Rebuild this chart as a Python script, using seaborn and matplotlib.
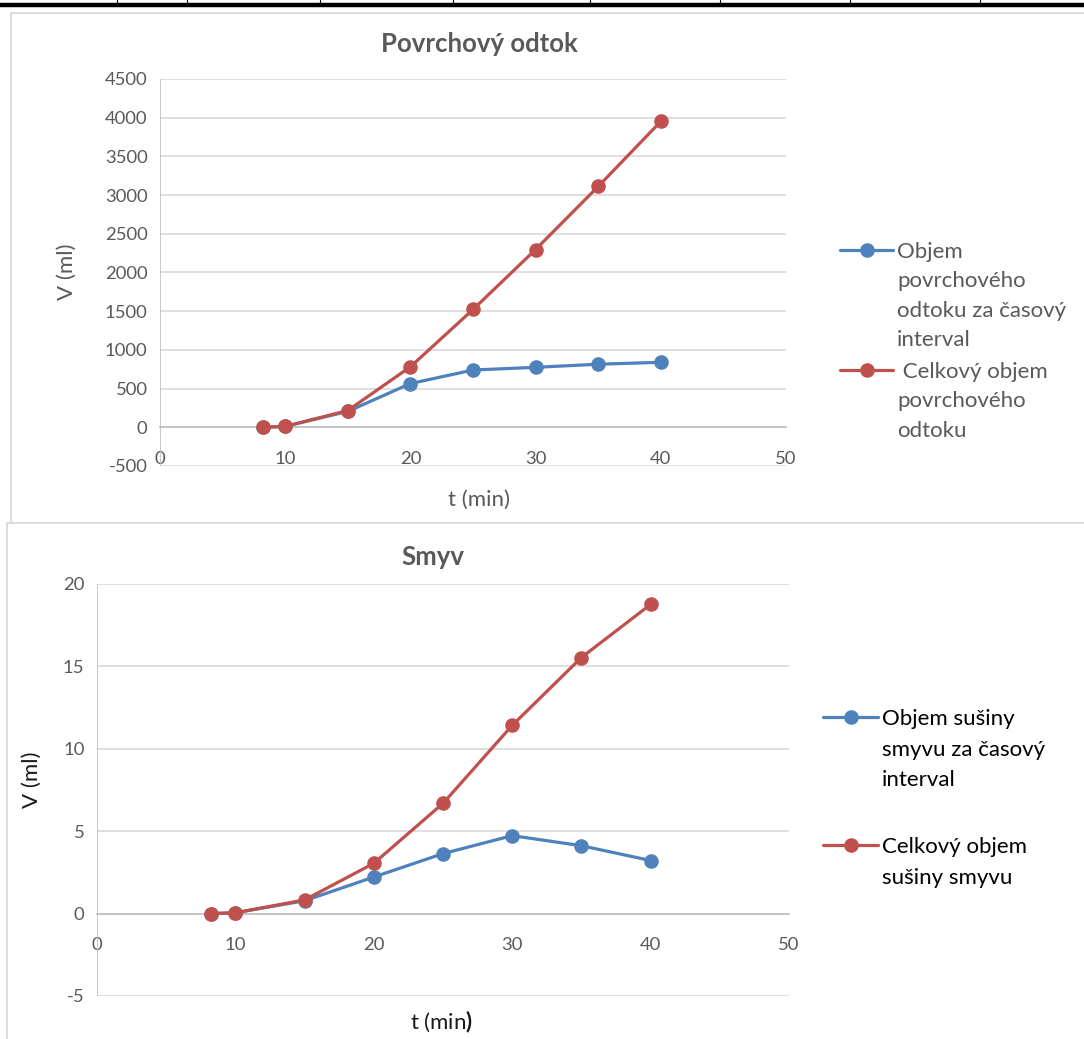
import matplotlib
matplotlib.use("Agg")
import matplotlib.pyplot as plt
from matplotlib.lines import Line2D
import seaborn as sns

# cas mereni (min)
t_min = [8.25, 10, 15, 20, 25, 30, 35, 40]

# povrchovy odtok (ml)
odtok_interval = [0, 12, 205, 565, 740, 775, 815, 840]
odtok_celkem = [0, 12, 217, 782, 1522, 2297, 3112, 3952]

# smyv - objem susiny (ml)
smyv_interval = [0, 0.05, 0.78, 2.22, 3.64, 4.73, 4.12, 3.22]
smyv_celkem = [0, 0.05, 0.83, 3.05, 6.69, 11.42, 15.54, 18.76]

odtok_labels = ["Objem\npovrchového\nodtoku za časový\ninterval",
                " Celkový objem\npovrchového\nodtoku"]
smyv_labels = ["Objem sušiny\nsmyvu za časový\ninterval",
               "Celkový objem\nsušiny smyvu"]

x_ticks = [0, 10, 20, 30, 40, 50]
odtok_yticks = list(range(-500, 4501, 500))
smyv_yticks = [-5, 0, 5, 10, 15, 20]

BLUE = "#4F81BD"
RED = "#C0504D"
GRID = "#D9D9D9"
AXIS = "#BFBFBF"
TXT = "#595959"

W, H = 1084, 1039

sns.set_theme(style="white")
plt.rcParams["font.family"] = ["Lato", "DejaVu Sans"]
plt.rcParams["axes.unicode_minus"] = False
plt.rcParams["mathtext.fontset"] = "custom"
plt.rcParams["mathtext.rm"] = "Lato"
plt.rcParams["mathtext.bf"] = "Lato:bold"

fig = plt.figure(figsize=(W / 100, H / 100), dpi=100)


def fx(x):
    return x / W


def fy(y):
    return 1 - y / H


def px_axes(left, top, right, bottom):
    return fig.add_axes([fx(left), fy(bottom), (right - left) / W, (bottom - top) / H])


def style_axes(ax, yticks):
    ax.set_xlim(0, 50)
    ax.set_ylim(yticks[0], yticks[-1])
    ax.set_xticks(x_ticks)
    ax.set_yticks(yticks)
    for s in ["top", "right", "left"]:
        ax.spines[s].set_visible(False)
    ax.spines["bottom"].set_position(("data", 0))
    ax.spines["bottom"].set_color(AXIS)
    ax.spines["bottom"].set_linewidth(1.2)
    ax.axvline(0, color=AXIS, lw=1.2, zorder=1)
    ax.grid(axis="y", color=GRID, lw=1.2)
    ax.grid(axis="x", visible=False)
    ax.tick_params(length=0, colors=TXT, labelsize=13.3)
    ax.tick_params(axis="x", pad=17)
    ax.tick_params(axis="y", pad=9)
    ax.set_xlabel("")
    ax.set_ylabel("")


def draw_series(ax, values, color):
    sns.lineplot(x=t_min, y=values, ax=ax, color=color, lw=2.3, marker="o",
                 markersize=10.5, markeredgewidth=0, legend=False, zorder=3)


def legend_entry(x0, x1, y, color, tx, text, tcolor, spacing):
    fig.add_artist(Line2D([fx(x0), fx((x0 + x1) / 2), fx(x1)], [fy(y)] * 3,
                          color=color, lw=2.3, marker="o", markevery=[1],
                          markersize=10.5, markeredgewidth=0))
    fig.text(fx(tx), fy(y - 8), text, fontsize=16, color=tcolor,
             va="top", ha="left", linespacing=spacing)


# ramecky grafu a cara tabulky nahore
fig.add_artist(Line2D([0, 1], [fy(5), fy(5)], color="black", lw=3.2))
for xv in [117, 187, 320, 453, 590, 720, 850, 980]:
    fig.add_artist(Line2D([fx(xv), fx(xv)], [1, fy(5)], color="black", lw=0.8))
fig.add_artist(Line2D([fx(11), fx(11), 1], [fy(523), fy(13), fy(13)], color=GRID, lw=1.3))
fig.add_artist(Line2D([fx(7), fx(7), 1], [0, fy(523), fy(523)], color=GRID, lw=1.3))

# 1) Povrchovy odtok
ax1 = px_axes(160, 79, 786, 466)
draw_series(ax1, odtok_interval, BLUE)
draw_series(ax1, odtok_celkem, RED)
style_axes(ax1, odtok_yticks)
fig.text(fx(479), fy(44), "Povrchový odtok", fontsize=18.5, fontweight="bold",
         color=TXT, ha="center", va="center")
fig.text(fx(479), fy(500), "t (min)", fontsize=16, color=TXT, ha="center", va="center")
fig.text(fx(67), fy(272), "V (ml)", fontsize=16, color=TXT, ha="center", va="center",
         rotation=90)
legend_entry(840, 893, 250, BLUE, 897, odtok_labels[0], TXT, 1.58)
legend_entry(840, 893, 370, RED, 897, odtok_labels[1], TXT, 1.58)

# 2) Smyv
ax2 = px_axes(97, 584, 789, 996)
draw_series(ax2, smyv_interval, BLUE)
draw_series(ax2, smyv_celkem, RED)
style_axes(ax2, smyv_yticks)
fig.text(fx(433), fy(557), "Smyv", fontsize=18.5, fontweight="bold",
         color=TXT, ha="center", va="center")
fig.text(fx(441), fy(1022), r"t (min$\mathbf{)}$", fontsize=16, color="#1a1a1a",
         ha="center", va="center")
fig.text(fx(32), fy(780), "V (ml)", fontsize=16, color="#1a1a1a", ha="center",
         va="center", rotation=90)
legend_entry(823, 878, 717, BLUE, 882, smyv_labels[0], "black", 1.66)
legend_entry(823, 878, 845, RED, 882, smyv_labels[1], "black", 1.66)

fig.savefig("out.png", dpi=100)
